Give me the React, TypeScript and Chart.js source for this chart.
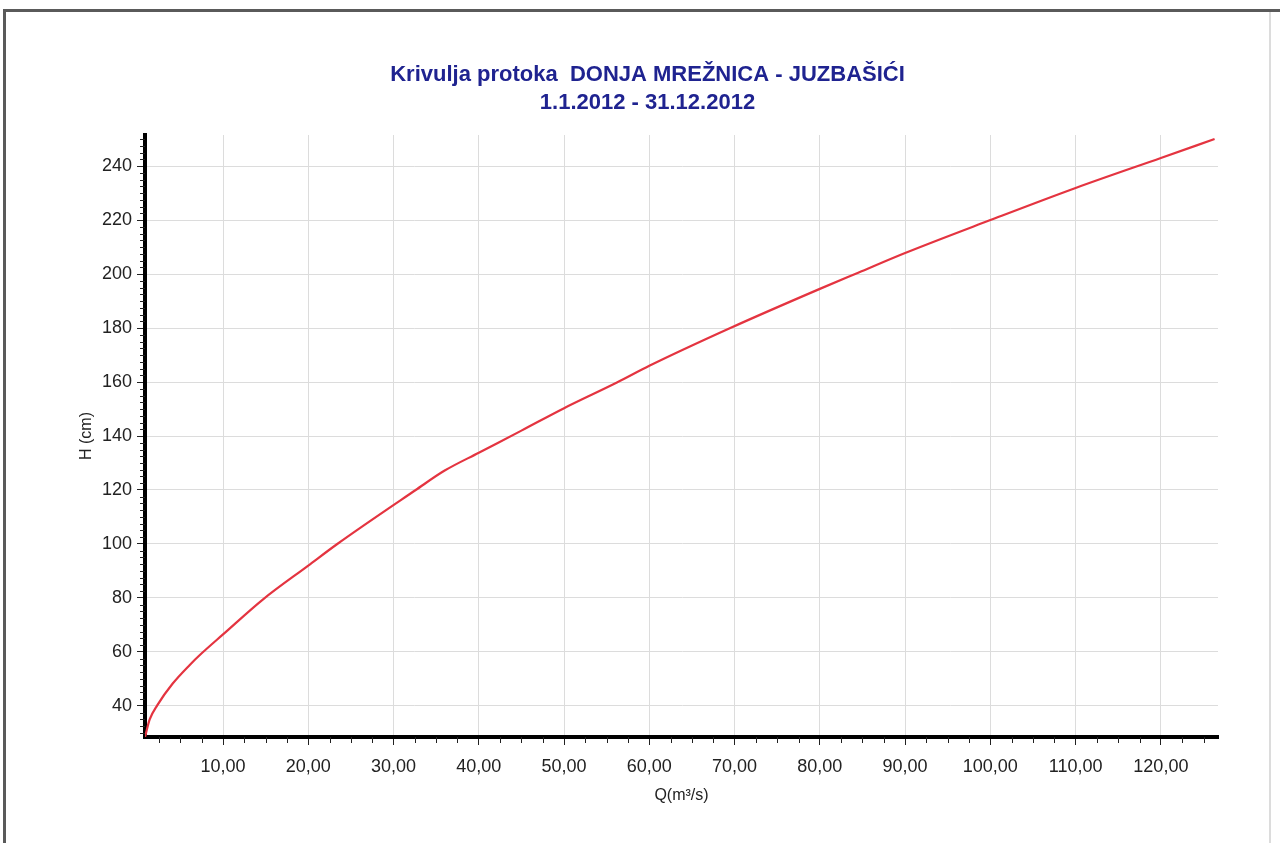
import React, { useEffect, useRef } from "react";
import { Chart, registerables } from "chart.js";

Chart.register(...registerables);

// Rating curve data: discharge Q (m³/s) vs water level H (cm)
const dischargeQ = [0.85, 1.4, 2.3, 4.1, 6.1, 7.5, 10, 14.7, 20, 23.4, 32.6, 36, 40, 45, 50, 56.2, 60, 69.5, 80, 84.5, 90, 100, 110, 120, 126.3];
const levelH = [28.5, 35, 40.3, 48.3, 55.2, 59.5, 66.5, 79.5, 92, 100, 120, 127.2, 133.8, 142, 150.3, 159.8, 166, 180, 194.5, 200.5, 207.8, 220, 231.9, 243, 250];

const titleLines = ["Krivulja protoka  DONJA MREŽNICA - JUZBAŠIĆI", "1.1.2012 - 31.12.2012"];
const xAxisTitle = "Q(m³/s)";
const yAxisTitle = "H (cm)";

const xMin = 0.85;
const xMax = 126.7;
const yMin = 28.5;
const yMax = 251.5;
const xMajorStep = 10;
const yMajorStep = 20;
const minorStep = 2.5;

const FONT = "'Liberation Sans', Arial, sans-serif";

const framePlugin = {
  id: "frame",
  beforeDraw(chart: any) {
    const ctx = chart.ctx;
    ctx.save();
    ctx.fillStyle = "#ffffff";
    ctx.fillRect(0, 0, chart.width, chart.height);
    ctx.fillStyle = "#5a5a5a";
    ctx.fillRect(3, 9, chart.width - 3, 3);
    ctx.fillRect(3, 9, 3, chart.height - 9);
    ctx.fillStyle = "#dcdcdc";
    ctx.fillRect(1269, 12, 2, chart.height - 12);
    ctx.restore();
  },
};

const minorTickPlugin = {
  id: "minorTicks",
  afterDraw(chart: any) {
    const ctx = chart.ctx;
    const xs = chart.scales.x;
    const ys = chart.scales.y;
    const area = chart.chartArea;
    ctx.save();
    ctx.strokeStyle = "#222";
    ctx.lineWidth = 1;
    ctx.beginPath();
    for (let v = Math.ceil(xMin / minorStep) * minorStep; v <= xMax; v += minorStep) {
      if (Math.abs(v % xMajorStep) < 1e-6) continue;
      const px = Math.round(xs.getPixelForValue(v)) + 0.5;
      ctx.moveTo(px, area.bottom);
      ctx.lineTo(px, area.bottom + 6);
    }
    for (let v = Math.ceil(yMin / minorStep) * minorStep; v <= yMax; v += minorStep) {
      if (Math.abs(v % yMajorStep) < 1e-6) continue;
      const py = Math.round(ys.getPixelForValue(v)) + 0.5;
      ctx.moveTo(area.left - 5, py);
      ctx.lineTo(area.left, py);
    }
    ctx.stroke();
    ctx.restore();
  },
};

export default function App() {
  const canvasRef = useRef<HTMLCanvasElement | null>(null);

  useEffect(() => {
    if (!canvasRef.current) return;
    const points = dischargeQ.map((q, i) => ({ x: q, y: levelH[i] }));
    const chart = new Chart(canvasRef.current, {
      type: "line",
      data: {
        datasets: [
          {
            data: points,
            borderColor: "rgb(228, 52, 64)",
            borderWidth: 2.2,
            pointRadius: 0,
            fill: false,
            cubicInterpolationMode: "monotone",
          },
        ],
      },
      options: {
        responsive: false,
        animation: false,
        layout: { padding: { left: 77, right: 62, top: 0, bottom: 38 } },
        plugins: {
          legend: { display: false },
          tooltip: { enabled: false },
          title: {
            display: true,
            text: titleLines,
            color: "#1f2390",
            font: { family: FONT, size: 22, weight: "bold", lineHeight: 1.273 },
            padding: { top: 61, bottom: 18 },
          },
        },
        scales: {
          x: {
            type: "linear",
            min: xMin,
            max: xMax,
            afterFit: (scale: any) => {
              scale.height = 68;
            },
            ticks: {
              stepSize: xMajorStep,
              includeBounds: false,
              autoSkip: false,
              maxRotation: 0,
              padding: 11,
              color: "#222",
              font: { family: FONT, size: 18 },
              callback: (v: any) => Number(v).toFixed(2).replace(".", ","),
            },
            grid: { color: "#dcdcdc", tickColor: "#222", tickLength: 8, lineWidth: 1 },
            border: { color: "#000", width: 4 },
            title: {
              display: true,
              text: xAxisTitle,
              color: "#222",
              font: { family: FONT, size: 16 },
              padding: 0,
            },
          },
          y: {
            type: "linear",
            min: yMin,
            max: yMax,
            afterFit: (scale: any) => {
              scale.width = 68;
            },
            ticks: {
              stepSize: yMajorStep,
              includeBounds: false,
              autoSkip: false,
              padding: 5,
              color: "#222",
              font: { family: FONT, size: 18 },
            },
            grid: { color: "#dcdcdc", tickColor: "#222", tickLength: 8, lineWidth: 1 },
            border: { color: "#000", width: 4 },
            title: {
              display: true,
              text: yAxisTitle,
              color: "#222",
              font: { family: FONT, size: 16 },
              padding: 0,
            },
          },
        },
      },
      plugins: [framePlugin, minorTickPlugin],
    } as any);
    return () => chart.destroy();
  }, []);

  return (
    <canvas
      ref={canvasRef}
      width={1280}
      height={843}
      style={{ position: "absolute", left: 0, top: 0, width: 1280, height: 843 }}
    />
  );
}
